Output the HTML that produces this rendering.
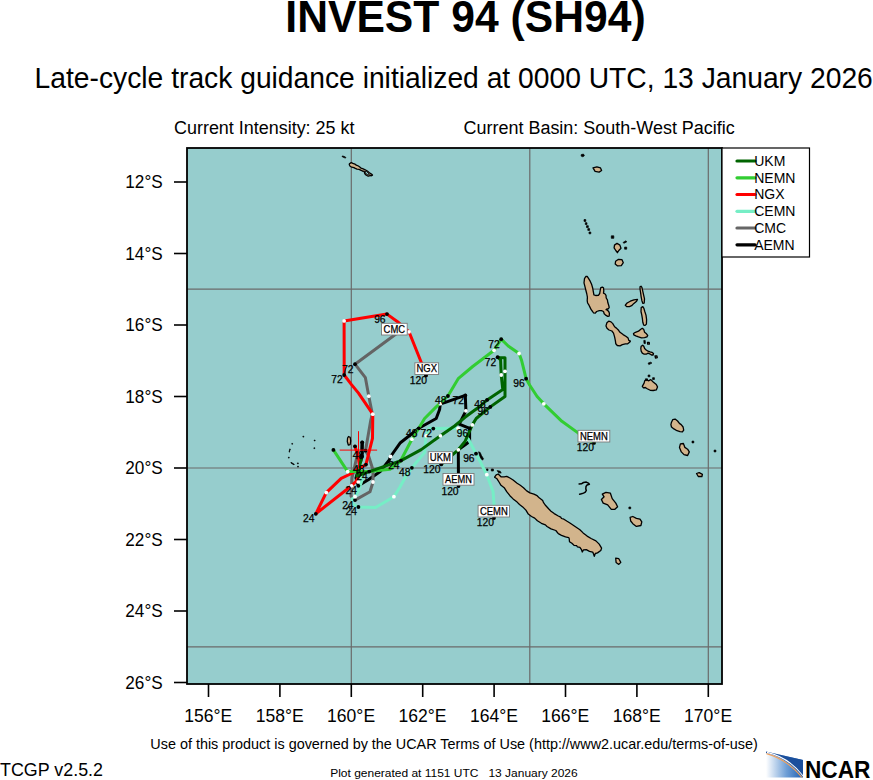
<!DOCTYPE html>
<html><head><meta charset="utf-8"><title>INVEST 94 (SH94) track guidance</title>
<style>html,body{margin:0;padding:0;background:#fff;width:873px;height:780px;overflow:hidden}svg{display:block}</style>
</head><body>
<svg width="873" height="780" viewBox="0 0 873 780">
<rect width="873" height="780" fill="#fff"/>
<text x="285.3" y="31.8" font-family="Liberation Sans, Arial, sans-serif" font-weight="bold" font-size="44.5" textLength="360.3" lengthAdjust="spacingAndGlyphs">INVEST 94 (SH94)</text>
<text x="34.6" y="87.6" font-family="Liberation Sans, Arial, sans-serif" font-size="30" textLength="838.2" lengthAdjust="spacingAndGlyphs">Late-cycle track guidance initialized at 0000 UTC, 13 January 2026</text>
<text x="174" y="133.8" font-family="Liberation Sans, Arial, sans-serif" font-size="18" textLength="180.5" lengthAdjust="spacingAndGlyphs">Current Intensity: 25 kt</text>
<text x="463.5" y="133.8" font-family="Liberation Sans, Arial, sans-serif" font-size="18" textLength="271.3" lengthAdjust="spacingAndGlyphs">Current Basin: South-West Pacific</text>
<defs><clipPath id="mc"><rect x="187" y="148" width="535" height="536"/></clipPath></defs>
<rect x="187" y="148" width="535" height="536" fill="#96cdcd"/>
<g clip-path="url(#mc)">
<line x1="351.3" y1="148" x2="351.3" y2="684" stroke="#6a6a6a" stroke-width="1.2"/>
<line x1="529.8" y1="148" x2="529.8" y2="684" stroke="#6a6a6a" stroke-width="1.2"/>
<line x1="708.3" y1="148" x2="708.3" y2="684" stroke="#6a6a6a" stroke-width="1.2"/>
<line x1="187" y1="289.2" x2="722" y2="289.2" stroke="#6a6a6a" stroke-width="1.2"/>
<line x1="187" y1="468.0" x2="722" y2="468.0" stroke="#6a6a6a" stroke-width="1.2"/>
<line x1="187" y1="646.8" x2="722" y2="646.8" stroke="#6a6a6a" stroke-width="1.2"/>
<path d="M349.4,163.8 L351.2,162.6 L352.9,163.4 L354.9,164.1 L356.3,165.2 L358.4,166.0 L360.1,167.2 L361.1,168.2 L363.2,168.9 L365.2,169.8 L367.3,171.0 L369.4,172.7 L371.4,174.1 L372.5,175.1 L371.4,175.8 L370.1,175.5 L368.7,176.2 L367.3,175.8 L365.6,174.8 L364.6,173.1 L364.2,171.3 L362.2,171.0 L361.1,170.3 L359.1,169.3 L357.0,169.1 L355.3,168.4 L353.9,167.6 L351.8,167.2 L350.1,166.2 L349.3,164.8Z" fill="#d2b48c" stroke="#000" stroke-width="1.3" stroke-linejoin="round"/>
<path d="M365.1,171.3 L366.6,171.3 L368.3,173.1 L369.4,174.4 L368.0,175.1 L366.3,174.1 L365.4,172.7Z" fill="#96cdcd" stroke="#000" stroke-width="1" stroke-linejoin="round"/>
<path d="M342.0,156.0 L344.0,156.3 L345.9,157.4 L345.6,158.1 L343.8,157.6 L342.2,156.7Z" fill="#000" stroke="#000" stroke-width="0.7" stroke-linejoin="round"/>
<path d="M581.3,154.5 L583.5,154.1 L584.4,155.7 L582.9,156.8 L581.1,156.1Z" fill="#000" stroke="#000" stroke-width="0.7" stroke-linejoin="round"/>
<path d="M593.0,167.9 L596.9,166.9 L600.5,167.9 L601.6,170.5 L599.1,172.1 L595.1,171.4Z" fill="#d2b48c" stroke="#000" stroke-width="1.3" stroke-linejoin="round"/>
<path d="M584.0,219.6 L585.8,219.6 L585.8,221.4 L584.0,221.4Z" fill="#000" stroke="#000" stroke-width="0.7" stroke-linejoin="round"/>
<path d="M585.3,222.7 L587.0,222.7 L587.0,224.5 L585.3,224.5Z" fill="#000" stroke="#000" stroke-width="0.7" stroke-linejoin="round"/>
<path d="M586.5,225.7 L588.3,225.7 L588.3,227.5 L586.5,227.5Z" fill="#000" stroke="#000" stroke-width="0.7" stroke-linejoin="round"/>
<path d="M587.8,228.6 L589.6,228.6 L589.6,230.4 L587.8,230.4Z" fill="#000" stroke="#000" stroke-width="0.7" stroke-linejoin="round"/>
<path d="M589.0,232.0 L590.8,232.0 L590.8,233.8 L589.0,233.8Z" fill="#000" stroke="#000" stroke-width="0.7" stroke-linejoin="round"/>
<path d="M611.3,235.8 L613.8,235.8 L613.8,238.3 L611.3,238.3Z" fill="#000" stroke="#000" stroke-width="0.7" stroke-linejoin="round"/>
<path d="M614.5,245.1 L617.0,243.3 L619.9,245.1 L621.0,248.3 L618.8,250.5 L617.4,252.7 L615.8,250.5 L614.1,247.8Z" fill="#d2b48c" stroke="#000" stroke-width="1.3" stroke-linejoin="round"/>
<path d="M623.1,242.4 L626.0,240.8 L626.7,241.9 L623.8,243.3Z" fill="#000" stroke="#000" stroke-width="0.7" stroke-linejoin="round"/>
<path d="M624.6,247.1 L626.7,247.1 L626.7,249.2 L624.6,249.2Z" fill="#000" stroke="#000" stroke-width="0.7" stroke-linejoin="round"/>
<path d="M615.6,261.3 L618.5,259.3 L622.0,259.7 L623.3,262.7 L621.3,265.6 L617.6,265.9 L615.2,264.0Z" fill="#d2b48c" stroke="#000" stroke-width="1.3" stroke-linejoin="round"/>
<path d="M584.0,282.8 L584.5,278.7 L585.8,276.5 L587.2,276.3 L588.5,278.3 L590.3,281.4 L591.7,284.6 L592.6,287.7 L593.5,292.6 L593.9,294.9 L595.7,295.5 L598.4,295.3 L599.7,293.5 L600.2,290.4 L600.8,287.7 L602.4,287.1 L603.5,287.7 L603.8,290.9 L603.5,293.1 L605.1,294.0 L606.0,295.3 L606.2,298.0 L607.4,299.8 L607.8,302.5 L608.7,305.2 L609.2,307.5 L608.3,308.8 L606.9,309.0 L606.0,309.7 L607.4,310.2 L608.7,311.5 L609.4,313.3 L609.2,316.0 L607.8,316.4 L605.6,315.1 L604.2,313.7 L603.5,311.5 L601.5,310.6 L599.3,310.6 L596.6,311.5 L595.3,313.1 L593.5,312.8 L592.6,311.5 L591.2,309.7 L590.3,307.9 L589.0,305.2 L587.6,303.0 L587.2,300.7 L587.4,297.1 L586.7,293.5 L585.8,290.0 L584.9,286.4Z" fill="#d2b48c" stroke="#000" stroke-width="1.3" stroke-linejoin="round"/>
<path d="M625.3,305.2 L627.1,303.0 L630.3,301.2 L633.9,299.8 L637.5,299.4 L636.6,301.2 L633.9,303.4 L631.6,305.7 L629.4,306.6 L626.7,306.6Z" fill="#d2b48c" stroke="#000" stroke-width="1.3" stroke-linejoin="round"/>
<path d="M640.0,286.8 L641.0,286.2 L641.9,287.3 L642.7,290.9 L643.7,295.3 L644.5,298.9 L644.2,303.0 L642.8,303.4 L641.9,300.7 L641.2,297.1 L640.6,292.6 L640.1,289.5Z" fill="#d2b48c" stroke="#000" stroke-width="1.3" stroke-linejoin="round"/>
<path d="M641.2,307.5 L642.8,306.6 L643.9,308.4 L644.8,311.5 L646.0,315.1 L646.6,319.6 L646.4,324.1 L645.1,325.4 L643.7,325.0 L642.8,322.3 L642.4,318.7 L641.8,315.1 L641.0,311.5Z" fill="#d2b48c" stroke="#000" stroke-width="1.3" stroke-linejoin="round"/>
<path d="M608.7,321.2 L611.0,321.9 L612.8,323.6 L614.6,326.8 L616.4,328.1 L618.6,330.3 L620.0,332.3 L623.1,334.6 L626.2,336.5 L628.1,338.1 L628.8,340.4 L630.4,341.2 L629.6,342.3 L627.7,343.8 L625.4,343.8 L622.3,344.6 L620.0,345.8 L617.3,345.5 L615.8,343.8 L615.4,340.8 L614.6,336.9 L613.5,333.1 L611.9,331.0 L609.0,330.0 L607.0,328.3 L606.0,325.9 L606.9,322.7Z" fill="#d2b48c" stroke="#000" stroke-width="1.3" stroke-linejoin="round"/>
<path d="M633.5,333.5 L635.4,332.3 L638.5,331.2 L640.8,329.2 L642.3,328.3 L643.8,329.6 L644.6,332.3 L646.5,333.8 L647.7,335.4 L646.9,336.9 L644.6,337.7 L641.5,337.8 L638.5,336.9 L635.8,335.8 L633.8,334.8Z" fill="#d2b48c" stroke="#000" stroke-width="1.3" stroke-linejoin="round"/>
<path d="M643.8,340.4 L645.2,340.4 L645.4,343.5 L644.0,343.6Z" fill="#000" stroke="#000" stroke-width="0.7" stroke-linejoin="round"/>
<path d="M647.5,342.3 L649.2,342.3 L649.4,344.0 L647.7,344.2Z" fill="#d2b48c" stroke="#000" stroke-width="1.3" stroke-linejoin="round"/>
<path d="M641.2,346.2 L642.7,345.2 L643.8,346.2 L644.6,348.5 L646.2,350.0 L648.1,351.2 L650.0,351.9 L651.9,352.3 L653.5,353.5 L653.1,355.0 L651.5,355.0 L649.6,353.8 L648.1,353.1 L646.2,354.2 L644.2,354.2 L642.3,353.1 L641.2,351.2 L640.8,348.5Z" fill="#d2b48c" stroke="#000" stroke-width="1.3" stroke-linejoin="round"/>
<path d="M655.0,356.0 L656.9,355.8 L657.3,357.7 L655.5,358.2Z" fill="#d2b48c" stroke="#000" stroke-width="1.3" stroke-linejoin="round"/>
<path d="M648.1,363.1 L650.8,362.2 L651.9,363.1 L648.8,364.6Z" fill="#000" stroke="#000" stroke-width="0.7" stroke-linejoin="round"/>
<path d="M648.1,375.0 L649.9,375.0 L649.9,376.8 L648.1,376.8Z" fill="#000" stroke="#000" stroke-width="0.7" stroke-linejoin="round"/>
<path d="M652.6,377.7 L654.4,377.7 L654.4,379.5 L652.6,379.5Z" fill="#000" stroke="#000" stroke-width="0.7" stroke-linejoin="round"/>
<path d="M642.3,386.3 L644.1,383.2 L644.7,380.8 L646.6,379.6 L648.4,380.8 L650.8,379.6 L653.2,382.0 L656.3,384.5 L657.5,386.9 L656.3,389.9 L653.2,390.5 L650.2,390.3 L647.2,388.7 L645.3,387.5 L643.5,387.9Z" fill="#d2b48c" stroke="#000" stroke-width="1.3" stroke-linejoin="round"/>
<path d="M645.4,378.8 L647.5,378.8 L647.5,380.6 L645.4,380.6Z" fill="#000" stroke="#000" stroke-width="0.7" stroke-linejoin="round"/>
<path d="M671.5,422.2 L672.7,419.7 L675.1,419.1 L677.6,421.0 L679.4,423.4 L681.2,424.6 L683.1,427.0 L683.7,430.1 L682.4,431.9 L680.0,431.7 L677.0,430.7 L673.9,428.9 L671.5,427.0 L670.9,424.6Z" fill="#d2b48c" stroke="#000" stroke-width="1.3" stroke-linejoin="round"/>
<path d="M680.4,443.8 L683.4,443.5 L684.9,447.4 L687.6,449.2 L689.3,451.9 L687.6,455.5 L684.0,454.6 L681.3,451.9 L679.5,447.4Z" fill="#d2b48c" stroke="#000" stroke-width="1.3" stroke-linejoin="round"/>
<path d="M692.0,441.1 L693.8,441.1 L693.8,442.9 L692.0,442.9Z" fill="#000" stroke="#000" stroke-width="0.7" stroke-linejoin="round"/>
<path d="M714.1,450.1 L715.9,450.1 L715.9,451.9 L714.1,451.9Z" fill="#000" stroke="#000" stroke-width="0.7" stroke-linejoin="round"/>
<path d="M696.5,473.5 L699.2,472.6 L702.4,474.4 L701.9,476.5 L698.3,476.5Z" fill="#d2b48c" stroke="#000" stroke-width="1.3" stroke-linejoin="round"/>
<path d="M602.3,494.1 L605.9,492.3 L610.4,493.2 L612.2,498.6 L615.8,503.1 L617.6,506.7 L614.9,509.3 L611.3,509.3 L607.7,504.9 L603.2,503.1 L601.4,499.5 L604.1,496.8Z" fill="#d2b48c" stroke="#000" stroke-width="1.3" stroke-linejoin="round"/>
<path d="M630.1,517.4 L632.8,516.5 L636.4,518.3 L640.0,519.2 L641.8,521.9 L640.9,525.5 L636.4,526.4 L632.8,523.7 L630.7,521.0Z" fill="#d2b48c" stroke="#000" stroke-width="1.3" stroke-linejoin="round"/>
<path d="M628.9,507.0 L630.7,507.0 L630.7,508.8 L628.9,508.8Z" fill="#000" stroke="#000" stroke-width="0.7" stroke-linejoin="round"/>
<path d="M496.2,474.8 L498.2,474.0 L501.0,476.8 L504.2,476.8 L506.7,476.4 L509.9,478.0 L513.1,480.0 L517.1,483.3 L520.3,485.3 L523.5,487.7 L526.7,490.9 L529.9,492.9 L533.9,494.1 L537.1,495.7 L539.5,498.1 L542.7,500.5 L543.4,502.4 L545.2,505.0 L548.6,508.8 L551.0,511.2 L554.2,513.6 L558.3,516.0 L560.7,517.2 L561.5,518.5 L563.9,519.2 L567.1,521.3 L570.3,523.3 L575.1,526.5 L579.9,529.7 L583.1,532.9 L587.1,536.1 L591.1,538.5 L595.9,540.9 L599.2,544.1 L601.6,548.1 L600.8,550.5 L597.5,552.9 L595.3,553.5 L594.3,556.3 L593.2,553.1 L592.7,552.1 L589.5,551.3 L586.3,549.7 L583.5,549.9 L582.3,552.0 L581.5,549.7 L579.9,547.3 L577.3,546.8 L576.7,545.7 L574.0,545.3 L571.9,543.3 L569.5,541.7 L569.2,538.5 L568.7,537.7 L565.5,536.9 L561.5,535.3 L558.3,533.7 L555.8,530.5 L551.0,528.9 L547.0,526.5 L545.4,524.9 L541.4,523.3 L537.4,520.8 L534.7,518.1 L531.5,516.5 L528.3,514.1 L525.9,510.1 L522.7,506.9 L519.5,504.5 L517.1,502.1 L513.1,498.9 L509.9,495.7 L506.7,491.7 L504.2,487.7 L501.0,485.3 L499.0,482.0 L497.0,478.8 L494.6,477.2Z" fill="#d2b48c" stroke="#000" stroke-width="1.3" stroke-linejoin="round"/>
<path d="M615.7,558.2 L618.8,558.7 L620.8,562.4 L618.8,564.4 L616.1,562.4Z" fill="#d2b48c" stroke="#000" stroke-width="1.3" stroke-linejoin="round"/>
<path d="M491.3,469.0 L493.4,469.0 L493.4,471.0 L491.3,471.0Z" fill="#000" stroke="#000" stroke-width="0.7" stroke-linejoin="round"/>
<path d="M497.1,470.6 L500.2,471.2 L501.2,473.1 L498.6,472.7Z" fill="#000" stroke="#000" stroke-width="0.7" stroke-linejoin="round"/>
<path d="M486.4,469.0 L488.0,469.0 L488.0,470.6 L486.4,470.6Z" fill="#000" stroke="#000" stroke-width="0.7" stroke-linejoin="round"/>
<path d="M302.9,436.2 L303.8,436.2 L303.8,437.1 L302.9,437.1Z" fill="#000" stroke="#000" stroke-width="0.7" stroke-linejoin="round"/>
<path d="M314.2,440.1 L315.1,440.1 L315.1,440.9 L314.2,440.9Z" fill="#000" stroke="#000" stroke-width="0.7" stroke-linejoin="round"/>
<path d="M291.8,443.4 L292.6,443.4 L292.6,444.2 L291.8,444.2Z" fill="#000" stroke="#000" stroke-width="0.7" stroke-linejoin="round"/>
<path d="M313.9,447.8 L314.8,447.8 L314.8,448.6 L313.9,448.6Z" fill="#000" stroke="#000" stroke-width="0.7" stroke-linejoin="round"/>
<path d="M288.4,457.2 L289.2,457.2 L289.2,458.1 L288.4,458.1Z" fill="#000" stroke="#000" stroke-width="0.7" stroke-linejoin="round"/>
<path d="M297.4,462.9 L298.3,462.9 L298.3,463.8 L297.4,463.8Z" fill="#000" stroke="#000" stroke-width="0.7" stroke-linejoin="round"/>
<path d="M297.6,466.2 L298.4,466.2 L298.4,467.1 L297.6,467.1Z" fill="#000" stroke="#000" stroke-width="0.7" stroke-linejoin="round"/>
<path d="M289.9,448.8 L290.2,449.2 L289.4,452.2 L289.0,451.9Z" fill="#000" stroke="#000" stroke-width="0.7" stroke-linejoin="round"/>
<path d="M291.1,462.3 L294.3,464.3 L294.0,464.9 L290.8,462.9Z" fill="#000" stroke="#000" stroke-width="0.7" stroke-linejoin="round"/>
<path d="M348.5,436.5 L350.2,437.3 L350.7,441.0 L350.1,444.6 L348.3,445.0 L347.3,441.5 L347.6,438.0Z" fill="#d2b48c" stroke="#000" stroke-width="1.3" stroke-linejoin="round"/>
<path d="M478.6,451.8 L480.2,452.5 L481.5,455.5 L483.5,458.8 L482.5,460.2 L480.5,458.0 L479.5,455.0Z" fill="#000" stroke="#000" stroke-width="0.7" stroke-linejoin="round"/>
<path d="M579.1,484.0 L581.4,483.8 L583.5,482.5 L586.3,482.1 L588.3,483.1 L589.4,484.3 L587.1,484.9 L586.0,486.5 L585.8,489.0 L586.3,490.3 L585.3,492.1 L583.5,493.1 L581.4,493.8 L579.6,494.2" fill="none" stroke="#000" stroke-width="1.5" stroke-linejoin="round" stroke-linecap="round"/>
<path d="M362.2,442.3 L361.9,456.9 L356.0,478.0 L358.4,485.8 L368.7,479.5 L380.2,471.5 L389.3,460.0 L390.6,456.5 L400.4,442.7 L418.8,428.3 L436.2,418.5 L439.6,409.5 L440.3,403.7 L445.4,402.4 L465.3,395.4 L465.9,410.8 L459.2,424.2 L469.6,428.3 L469.6,441.5 L458.3,449.8 L458.5,486.0" fill="none" stroke="#000000" stroke-width="3.0" stroke-linejoin="round" stroke-linecap="round"/>
<path d="M358.0,452.0 L352.0,478.0 L351.0,496.0 L355.0,500.1 L370.0,491.7 L373.0,482.0 L373.0,470.0 L368.6,455.9 L365.5,450.7 L370.8,420.0 L372.3,413.8 L368.8,396.2 L365.4,377.7 L355.0,364.2 L396.0,334.0" fill="none" stroke="#646464" stroke-width="3.0" stroke-linejoin="round" stroke-linecap="round"/>
<path d="M360.0,452.0 L361.9,480.6 L358.4,490.9 L355.0,496.7 L352.1,499.0 L352.1,503.5 L358.4,507.0 L375.6,507.5 L393.9,496.7 L399.7,487.5 L407.3,473.8 L411.9,467.8 L424.6,452.5 L425.8,438.0 L426.3,435.8 L429.2,428.3 L433.3,428.6 L458.1,428.3 L468.5,439.2 L476.0,453.7 L480.6,462.4 L486.8,474.7 L493.0,491.2 L494.0,503.6 L494.0,518.0" fill="none" stroke="#76eec6" stroke-width="3.0" stroke-linejoin="round" stroke-linecap="round"/>
<path d="M355.0,446.3 L358.5,458.0 L359.6,466.7 L359.6,474.9 L356.1,481.2 L351.5,485.8 L315.8,513.8 L326.3,492.6 L341.2,478.3 L351.5,473.5 L358.0,469.0 L365.9,464.6 L372.5,438.3 L372.8,414.2 L358.5,393.1 L351.5,384.6 L344.2,375.0 L344.1,320.9 L387.0,314.1 L398.6,322.5 L409.0,331.8 L421.0,361.7 L426.0,375.5" fill="none" stroke="#ff0000" stroke-width="3.0" stroke-linejoin="round" stroke-linecap="round"/>
<path d="M333.4,449.9 L347.7,471.6 L369.2,471.6 L390.0,469.2 L400.4,461.2 L411.9,439.2 L418.8,428.3 L424.6,418.5 L436.2,406.9 L447.9,396.0 L458.2,378.7 L472.7,366.5 L494.1,350.3 L501.2,339.2 L508.2,346.0 L519.1,353.5 L521.7,360.8 L526.1,378.7 L529.6,385.0 L537.1,396.5 L543.8,403.8 L561.9,421.3 L578.0,432.9 L594.0,442.9" fill="none" stroke="#32cd32" stroke-width="3.0" stroke-linejoin="round" stroke-linecap="round"/>
<path d="M361.9,457.0 L357.0,476.0 L369.2,471.6 L401.0,460.6 L421.2,449.6 L440.4,435.8 L454.6,426.0 L465.0,417.3 L480.0,406.3 L487.1,399.9 L502.8,389.5 L501.2,375.0 L500.6,360.0 L497.6,357.2 L500.0,357.8 L505.0,357.8 L505.0,371.3 L505.0,396.5 L490.3,406.9 L476.2,418.5 L472.3,424.9 L465.0,441.5 L458.3,449.8 L441.2,464.4" fill="none" stroke="#006400" stroke-width="3.0" stroke-linejoin="round" stroke-linecap="round"/>
<path d="M362.2,442.3 L361.9,456.9" stroke="#000" stroke-width="3.0" stroke-linecap="round"/>
<circle cx="358.3" cy="481.9" r="1.9" fill="#fff"/>
<circle cx="361.6" cy="456.2" r="1.9" fill="#000"/>
<circle cx="362.2" cy="442.3" r="1.9" fill="#000"/>
<circle cx="358.4" cy="485.8" r="1.9" fill="#000"/>
<circle cx="390.6" cy="456.5" r="1.9" fill="#fff"/>
<circle cx="418.8" cy="428.3" r="1.9" fill="#000"/>
<circle cx="440.3" cy="403.7" r="1.9" fill="#fff"/>
<circle cx="465.3" cy="395.4" r="1.9" fill="#000"/>
<circle cx="465.9" cy="410.8" r="1.9" fill="#fff"/>
<circle cx="469.6" cy="428.3" r="1.9" fill="#000"/>
<circle cx="458.3" cy="449.8" r="1.9" fill="#fff"/>
<circle cx="458.5" cy="486.0" r="1.9" fill="#000"/>
<circle cx="355.0" cy="500.1" r="1.9" fill="#000"/>
<circle cx="373.0" cy="482.0" r="1.9" fill="#fff"/>
<circle cx="365.5" cy="450.7" r="1.9" fill="#000"/>
<circle cx="368.8" cy="396.2" r="1.9" fill="#fff"/>
<circle cx="355.0" cy="364.2" r="1.9" fill="#000"/>
<circle cx="355.0" cy="496.7" r="1.9" fill="#fff"/>
<circle cx="358.4" cy="507.0" r="1.9" fill="#000"/>
<circle cx="393.9" cy="496.7" r="1.9" fill="#fff"/>
<circle cx="411.9" cy="467.8" r="1.9" fill="#000"/>
<circle cx="426.3" cy="435.8" r="1.9" fill="#fff"/>
<circle cx="433.3" cy="428.6" r="1.9" fill="#000"/>
<circle cx="458.1" cy="428.3" r="1.9" fill="#fff"/>
<circle cx="476.0" cy="453.7" r="1.9" fill="#000"/>
<circle cx="486.8" cy="474.7" r="1.9" fill="#fff"/>
<circle cx="494.0" cy="518.0" r="1.9" fill="#000"/>
<circle cx="355.0" cy="446.3" r="1.9" fill="#000"/>
<circle cx="351.5" cy="485.8" r="1.9" fill="#fff"/>
<circle cx="315.8" cy="513.8" r="1.9" fill="#000"/>
<circle cx="326.3" cy="492.6" r="1.9" fill="#fff"/>
<circle cx="365.9" cy="464.6" r="1.9" fill="#000"/>
<circle cx="372.8" cy="414.2" r="1.9" fill="#fff"/>
<circle cx="344.2" cy="375.0" r="1.9" fill="#000"/>
<circle cx="344.1" cy="320.9" r="1.9" fill="#fff"/>
<circle cx="387.0" cy="314.1" r="1.9" fill="#000"/>
<circle cx="409.0" cy="331.8" r="1.9" fill="#fff"/>
<circle cx="426.0" cy="375.5" r="1.9" fill="#000"/>
<circle cx="333.4" cy="449.9" r="1.9" fill="#000"/>
<circle cx="347.7" cy="471.6" r="1.9" fill="#fff"/>
<circle cx="369.2" cy="471.6" r="1.9" fill="#000"/>
<circle cx="411.9" cy="439.2" r="1.9" fill="#fff"/>
<circle cx="447.9" cy="396.0" r="1.9" fill="#000"/>
<circle cx="494.1" cy="350.3" r="1.9" fill="#fff"/>
<circle cx="501.2" cy="339.2" r="1.9" fill="#000"/>
<circle cx="519.1" cy="353.5" r="1.9" fill="#fff"/>
<circle cx="526.1" cy="378.7" r="1.9" fill="#000"/>
<circle cx="543.8" cy="403.8" r="1.9" fill="#fff"/>
<circle cx="594.0" cy="442.9" r="1.9" fill="#000"/>
<circle cx="401.0" cy="460.6" r="1.9" fill="#000"/>
<circle cx="440.4" cy="435.8" r="1.9" fill="#fff"/>
<circle cx="487.1" cy="399.9" r="1.9" fill="#000"/>
<circle cx="501.2" cy="375.0" r="1.9" fill="#fff"/>
<circle cx="497.6" cy="357.2" r="1.9" fill="#000"/>
<circle cx="505.0" cy="371.3" r="1.9" fill="#fff"/>
<circle cx="490.3" cy="406.9" r="1.9" fill="#000"/>
<circle cx="472.3" cy="424.9" r="1.9" fill="#fff"/>
<circle cx="441.2" cy="464.4" r="1.9" fill="#000"/>
<g stroke="#ff0000" stroke-width="1"><line x1="339.7" y1="450.1" x2="377.1" y2="450.1"/><line x1="358.5" y1="431.2" x2="358.5" y2="469"/></g>
<text x="357.0" y="494.2" font-family="Liberation Sans, Arial, sans-serif" font-size="10.3" stroke="#000" stroke-width="0.25" text-anchor="end">24</text>
<text x="417.4" y="436.7" font-family="Liberation Sans, Arial, sans-serif" font-size="10.3" stroke="#000" stroke-width="0.25" text-anchor="end">48</text>
<text x="463.9" y="403.8" font-family="Liberation Sans, Arial, sans-serif" font-size="10.3" stroke="#000" stroke-width="0.25" text-anchor="end">72</text>
<text x="468.2" y="436.7" font-family="Liberation Sans, Arial, sans-serif" font-size="10.3" stroke="#000" stroke-width="0.25" text-anchor="end">96</text>
<text x="353.6" y="508.5" font-family="Liberation Sans, Arial, sans-serif" font-size="10.3" stroke="#000" stroke-width="0.25" text-anchor="end">24</text>
<text x="364.1" y="459.1" font-family="Liberation Sans, Arial, sans-serif" font-size="10.3" stroke="#000" stroke-width="0.25" text-anchor="end">48</text>
<text x="353.6" y="372.6" font-family="Liberation Sans, Arial, sans-serif" font-size="10.3" stroke="#000" stroke-width="0.25" text-anchor="end">72</text>
<text x="357.0" y="515.4" font-family="Liberation Sans, Arial, sans-serif" font-size="10.3" stroke="#000" stroke-width="0.25" text-anchor="end">24</text>
<text x="410.5" y="476.2" font-family="Liberation Sans, Arial, sans-serif" font-size="10.3" stroke="#000" stroke-width="0.25" text-anchor="end">48</text>
<text x="431.9" y="437.0" font-family="Liberation Sans, Arial, sans-serif" font-size="10.3" stroke="#000" stroke-width="0.25" text-anchor="end">72</text>
<text x="474.6" y="462.1" font-family="Liberation Sans, Arial, sans-serif" font-size="10.3" stroke="#000" stroke-width="0.25" text-anchor="end">96</text>
<text x="314.4" y="522.2" font-family="Liberation Sans, Arial, sans-serif" font-size="10.3" stroke="#000" stroke-width="0.25" text-anchor="end">24</text>
<text x="364.5" y="473.0" font-family="Liberation Sans, Arial, sans-serif" font-size="10.3" stroke="#000" stroke-width="0.25" text-anchor="end">48</text>
<text x="342.8" y="383.4" font-family="Liberation Sans, Arial, sans-serif" font-size="10.3" stroke="#000" stroke-width="0.25" text-anchor="end">72</text>
<text x="385.6" y="322.5" font-family="Liberation Sans, Arial, sans-serif" font-size="10.3" stroke="#000" stroke-width="0.25" text-anchor="end">96</text>
<text x="367.8" y="480.0" font-family="Liberation Sans, Arial, sans-serif" font-size="10.3" stroke="#000" stroke-width="0.25" text-anchor="end">24</text>
<text x="446.5" y="404.4" font-family="Liberation Sans, Arial, sans-serif" font-size="10.3" stroke="#000" stroke-width="0.25" text-anchor="end">48</text>
<text x="499.8" y="347.6" font-family="Liberation Sans, Arial, sans-serif" font-size="10.3" stroke="#000" stroke-width="0.25" text-anchor="end">72</text>
<text x="524.7" y="387.1" font-family="Liberation Sans, Arial, sans-serif" font-size="10.3" stroke="#000" stroke-width="0.25" text-anchor="end">96</text>
<text x="399.6" y="469.0" font-family="Liberation Sans, Arial, sans-serif" font-size="10.3" stroke="#000" stroke-width="0.25" text-anchor="end">24</text>
<text x="485.7" y="408.3" font-family="Liberation Sans, Arial, sans-serif" font-size="10.3" stroke="#000" stroke-width="0.25" text-anchor="end">48</text>
<text x="496.2" y="365.6" font-family="Liberation Sans, Arial, sans-serif" font-size="10.3" stroke="#000" stroke-width="0.25" text-anchor="end">72</text>
<text x="488.9" y="415.3" font-family="Liberation Sans, Arial, sans-serif" font-size="10.3" stroke="#000" stroke-width="0.25" text-anchor="end">96</text>
<rect x="414.9" y="362.8" width="23.7" height="11.7" fill="#fff" stroke="#7a7a7a" stroke-width="0.9"/>
<text x="416.5" y="372.4" font-family="Liberation Sans, Arial, sans-serif" font-size="10.3" stroke="#000" stroke-width="0.25" textLength="20.6" lengthAdjust="spacingAndGlyphs">NGX</text>
<text x="426.9" y="383.8" font-family="Liberation Sans, Arial, sans-serif" font-size="10.3" stroke="#000" stroke-width="0.25" text-anchor="end">120</text>
<rect x="478.1" y="505.3" width="31.4" height="11.7" fill="#fff" stroke="#7a7a7a" stroke-width="0.9"/>
<text x="479.9" y="514.9" font-family="Liberation Sans, Arial, sans-serif" font-size="10.3" stroke="#000" stroke-width="0.25" textLength="27.9" lengthAdjust="spacingAndGlyphs">CEMN</text>
<text x="493.9" y="526.3" font-family="Liberation Sans, Arial, sans-serif" font-size="10.3" stroke="#000" stroke-width="0.25" text-anchor="end">120</text>
<rect x="578.0" y="430.3" width="31.8" height="11.7" fill="#fff" stroke="#7a7a7a" stroke-width="0.9"/>
<text x="579.9" y="439.9" font-family="Liberation Sans, Arial, sans-serif" font-size="10.3" stroke="#000" stroke-width="0.25" textLength="27.9" lengthAdjust="spacingAndGlyphs">NEMN</text>
<text x="594.0" y="451.3" font-family="Liberation Sans, Arial, sans-serif" font-size="10.3" stroke="#000" stroke-width="0.25" text-anchor="end">120</text>
<rect x="428.2" y="451.7" width="24.3" height="11.7" fill="#fff" stroke="#7a7a7a" stroke-width="0.9"/>
<text x="429.8" y="461.3" font-family="Liberation Sans, Arial, sans-serif" font-size="10.3" stroke="#000" stroke-width="0.25" textLength="21.2" lengthAdjust="spacingAndGlyphs">UKM</text>
<text x="440.5" y="472.7" font-family="Liberation Sans, Arial, sans-serif" font-size="10.3" stroke="#000" stroke-width="0.25" text-anchor="end">120</text>
<rect x="443.0" y="473.5" width="31.0" height="11.7" fill="#fff" stroke="#7a7a7a" stroke-width="0.9"/>
<text x="445.1" y="483.1" font-family="Liberation Sans, Arial, sans-serif" font-size="10.3" stroke="#000" stroke-width="0.25" textLength="26.8" lengthAdjust="spacingAndGlyphs">AEMN</text>
<text x="458.6" y="494.5" font-family="Liberation Sans, Arial, sans-serif" font-size="10.3" stroke="#000" stroke-width="0.25" text-anchor="end">120</text>
<rect x="381.5" y="323.3" width="25.7" height="11.7" fill="#fff" stroke="#7a7a7a" stroke-width="0.9"/>
<text x="383.6" y="332.9" font-family="Liberation Sans, Arial, sans-serif" font-size="10.3" stroke="#000" stroke-width="0.25" textLength="21.5" lengthAdjust="spacingAndGlyphs">CMC</text>
</g>
<rect x="187" y="148" width="535" height="536" fill="none" stroke="#000" stroke-width="1.8"/>
<line x1="174" y1="182.0" x2="187" y2="182.0" stroke="#000" stroke-width="1.6"/>
<text x="125.3" y="188.2" font-family="Liberation Sans, Arial, sans-serif" font-size="18" textLength="37.4" lengthAdjust="spacingAndGlyphs">12°S</text>
<line x1="174" y1="253.5" x2="187" y2="253.5" stroke="#000" stroke-width="1.6"/>
<text x="125.3" y="259.7" font-family="Liberation Sans, Arial, sans-serif" font-size="18" textLength="37.4" lengthAdjust="spacingAndGlyphs">14°S</text>
<line x1="174" y1="325.0" x2="187" y2="325.0" stroke="#000" stroke-width="1.6"/>
<text x="125.3" y="331.2" font-family="Liberation Sans, Arial, sans-serif" font-size="18" textLength="37.4" lengthAdjust="spacingAndGlyphs">16°S</text>
<line x1="174" y1="396.5" x2="187" y2="396.5" stroke="#000" stroke-width="1.6"/>
<text x="125.3" y="402.7" font-family="Liberation Sans, Arial, sans-serif" font-size="18" textLength="37.4" lengthAdjust="spacingAndGlyphs">18°S</text>
<line x1="174" y1="468.0" x2="187" y2="468.0" stroke="#000" stroke-width="1.6"/>
<text x="125.3" y="474.2" font-family="Liberation Sans, Arial, sans-serif" font-size="18" textLength="37.4" lengthAdjust="spacingAndGlyphs">20°S</text>
<line x1="174" y1="539.5" x2="187" y2="539.5" stroke="#000" stroke-width="1.6"/>
<text x="125.3" y="545.7" font-family="Liberation Sans, Arial, sans-serif" font-size="18" textLength="37.4" lengthAdjust="spacingAndGlyphs">22°S</text>
<line x1="174" y1="611.0" x2="187" y2="611.0" stroke="#000" stroke-width="1.6"/>
<text x="125.3" y="617.2" font-family="Liberation Sans, Arial, sans-serif" font-size="18" textLength="37.4" lengthAdjust="spacingAndGlyphs">24°S</text>
<line x1="174" y1="682.5" x2="187" y2="682.5" stroke="#000" stroke-width="1.6"/>
<text x="125.3" y="688.7" font-family="Liberation Sans, Arial, sans-serif" font-size="18" textLength="37.4" lengthAdjust="spacingAndGlyphs">26°S</text>
<line x1="208.5" y1="684" x2="208.5" y2="697" stroke="#000" stroke-width="1.6"/>
<text x="184.3" y="722.3" font-family="Liberation Sans, Arial, sans-serif" font-size="18" textLength="48" lengthAdjust="spacingAndGlyphs">156°E</text>
<line x1="279.9" y1="684" x2="279.9" y2="697" stroke="#000" stroke-width="1.6"/>
<text x="255.7" y="722.3" font-family="Liberation Sans, Arial, sans-serif" font-size="18" textLength="48" lengthAdjust="spacingAndGlyphs">158°E</text>
<line x1="351.3" y1="684" x2="351.3" y2="697" stroke="#000" stroke-width="1.6"/>
<text x="327.1" y="722.3" font-family="Liberation Sans, Arial, sans-serif" font-size="18" textLength="48" lengthAdjust="spacingAndGlyphs">160°E</text>
<line x1="422.7" y1="684" x2="422.7" y2="697" stroke="#000" stroke-width="1.6"/>
<text x="398.5" y="722.3" font-family="Liberation Sans, Arial, sans-serif" font-size="18" textLength="48" lengthAdjust="spacingAndGlyphs">162°E</text>
<line x1="494.1" y1="684" x2="494.1" y2="697" stroke="#000" stroke-width="1.6"/>
<text x="469.9" y="722.3" font-family="Liberation Sans, Arial, sans-serif" font-size="18" textLength="48" lengthAdjust="spacingAndGlyphs">164°E</text>
<line x1="565.5" y1="684" x2="565.5" y2="697" stroke="#000" stroke-width="1.6"/>
<text x="541.3" y="722.3" font-family="Liberation Sans, Arial, sans-serif" font-size="18" textLength="48" lengthAdjust="spacingAndGlyphs">166°E</text>
<line x1="636.9" y1="684" x2="636.9" y2="697" stroke="#000" stroke-width="1.6"/>
<text x="612.7" y="722.3" font-family="Liberation Sans, Arial, sans-serif" font-size="18" textLength="48" lengthAdjust="spacingAndGlyphs">168°E</text>
<line x1="708.3" y1="684" x2="708.3" y2="697" stroke="#000" stroke-width="1.6"/>
<text x="684.1" y="722.3" font-family="Liberation Sans, Arial, sans-serif" font-size="18" textLength="48" lengthAdjust="spacingAndGlyphs">170°E</text>
<rect x="722" y="148" width="87.5" height="109" fill="#fff" stroke="#000" stroke-width="1.2"/>
<line x1="737" y1="161.0" x2="755" y2="161.0" stroke="#006400" stroke-width="3.2" stroke-linecap="round"/>
<text x="754.2" y="165.8" font-family="Liberation Sans, Arial, sans-serif" font-size="14">UKM</text>
<line x1="737" y1="177.8" x2="755" y2="177.8" stroke="#32cd32" stroke-width="3.2" stroke-linecap="round"/>
<text x="754.2" y="182.6" font-family="Liberation Sans, Arial, sans-serif" font-size="14">NEMN</text>
<line x1="737" y1="194.5" x2="755" y2="194.5" stroke="#ff0000" stroke-width="3.2" stroke-linecap="round"/>
<text x="754.2" y="199.3" font-family="Liberation Sans, Arial, sans-serif" font-size="14">NGX</text>
<line x1="737" y1="211.3" x2="755" y2="211.3" stroke="#76eec6" stroke-width="3.2" stroke-linecap="round"/>
<text x="754.2" y="216.1" font-family="Liberation Sans, Arial, sans-serif" font-size="14">CEMN</text>
<line x1="737" y1="228.0" x2="755" y2="228.0" stroke="#666666" stroke-width="3.2" stroke-linecap="round"/>
<text x="754.2" y="232.8" font-family="Liberation Sans, Arial, sans-serif" font-size="14">CMC</text>
<line x1="737" y1="244.8" x2="755" y2="244.8" stroke="#000000" stroke-width="3.2" stroke-linecap="round"/>
<text x="754.2" y="249.6" font-family="Liberation Sans, Arial, sans-serif" font-size="14">AEMN</text>
<text x="150.3" y="748.8" font-family="Liberation Sans, Arial, sans-serif" font-size="14.2" textLength="607.5" lengthAdjust="spacingAndGlyphs">Use of this product is governed by the UCAR Terms of Use (http://www2.ucar.edu/terms-of-use)</text>
<text x="0" y="776.1" font-family="Liberation Sans, Arial, sans-serif" font-size="18" textLength="103" lengthAdjust="spacingAndGlyphs">TCGP v2.5.2</text>
<text x="330.2" y="776.8" font-family="Liberation Sans, Arial, sans-serif" font-size="11.6" textLength="247.5" lengthAdjust="spacingAndGlyphs" xml:space="preserve">Plot generated at 1151 UTC   13 January 2026</text>
<defs><linearGradient id="ng" x1="0" x2="1" y1="0" y2="0">
<stop offset="0" stop-color="#ffffff"/><stop offset="0.55" stop-color="#6f9fd6"/><stop offset="1" stop-color="#1f5fb0"/></linearGradient></defs>
<path d="M766,751.5 L803,760 L803,777.5 L766,777.5 Z" fill="url(#ng)"/>
<path d="M766,751.5 L803,760 L803,777 Q788,758 766,753 Z" fill="#1b4f9c"/>
<path d="M766.5,753.6 Q787,759.2 802,777.5" fill="none" stroke="#f2a15a" stroke-width="1.1"/>
<path d="M767,752.4 Q789,757.4 803.5,776.5" fill="none" stroke="#ffffff" stroke-width="1.1"/>
<text x="805" y="777.5" font-family="Liberation Sans, Arial, sans-serif" font-weight="bold" font-size="23.5" textLength="65.5" lengthAdjust="spacingAndGlyphs">NCAR</text>
</svg>
</body></html>
